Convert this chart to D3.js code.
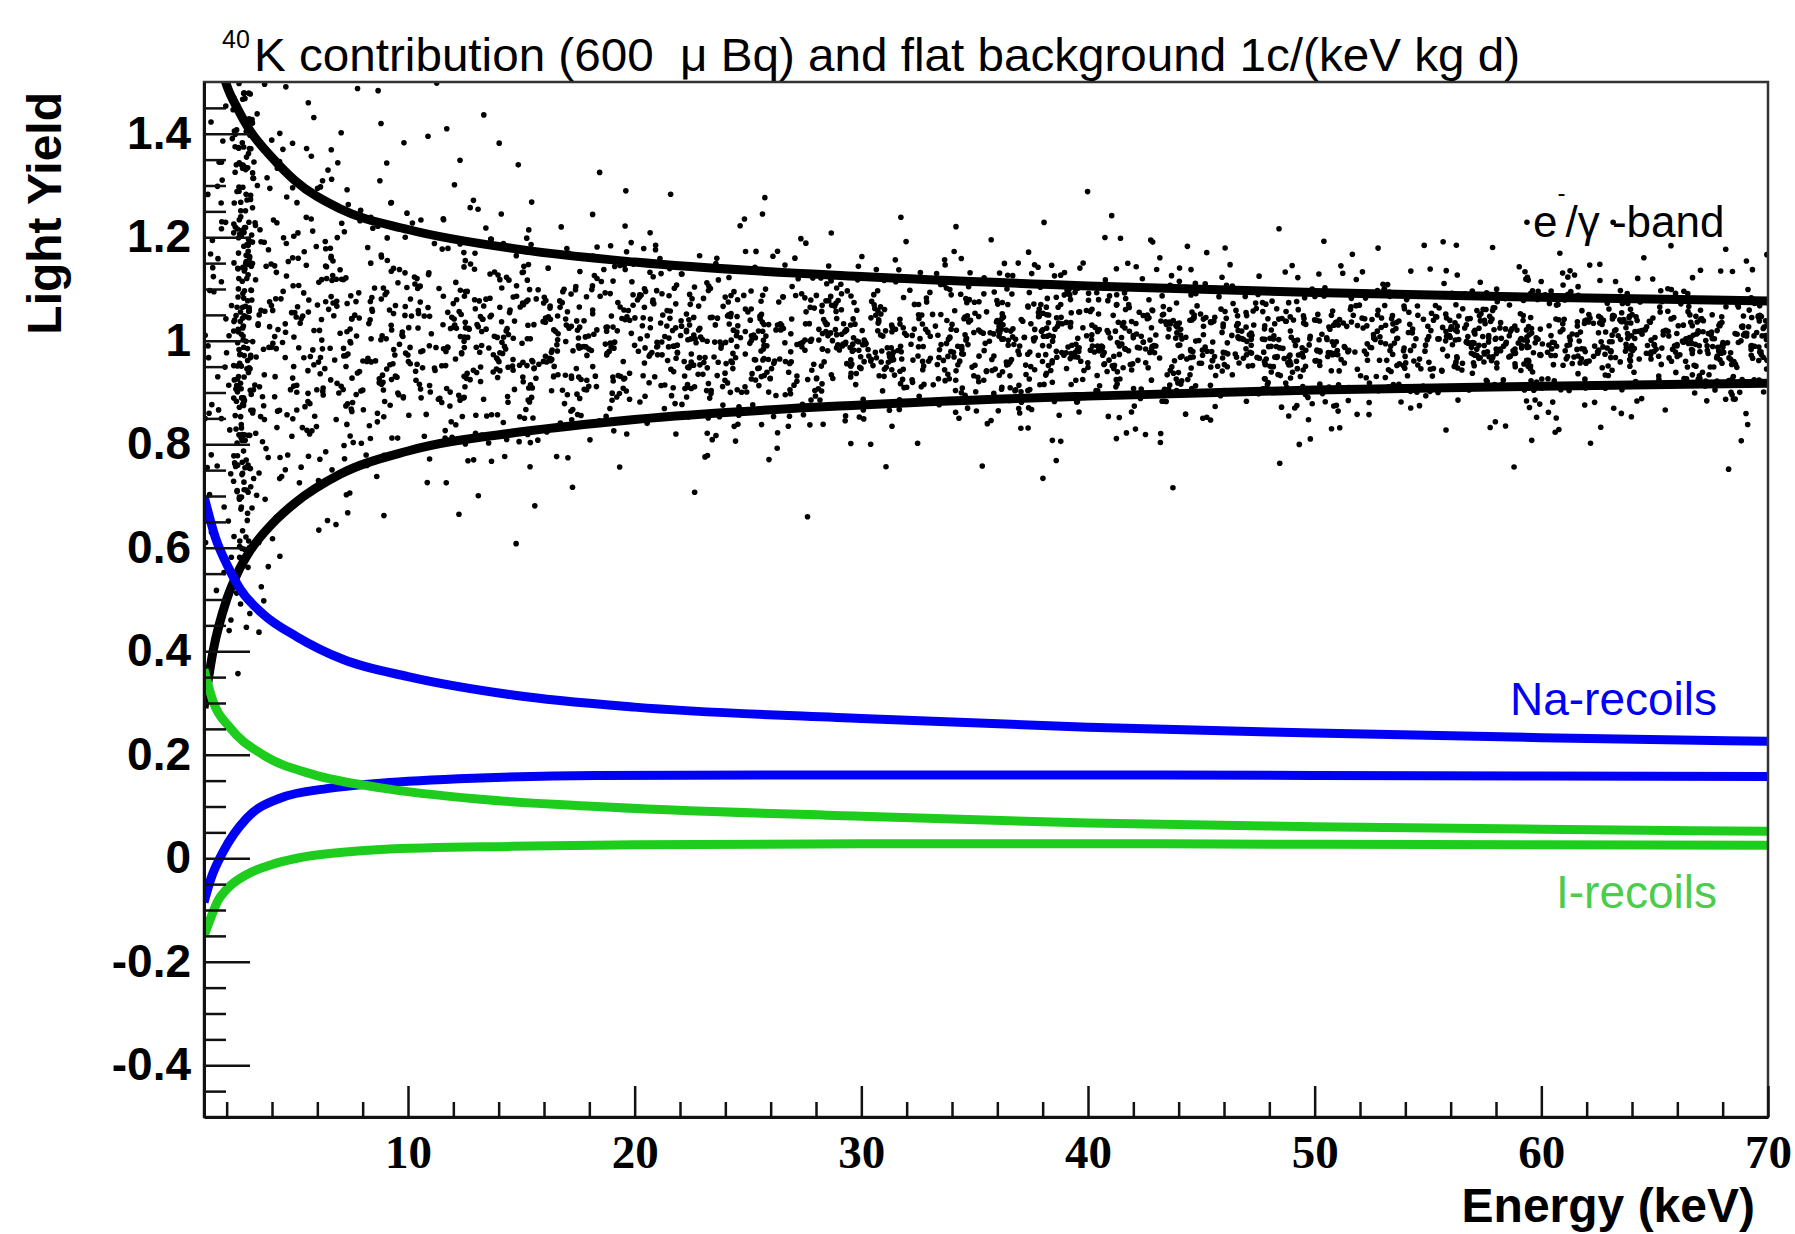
<!DOCTYPE html>
<html>
<head>
<meta charset="utf-8">
<script src="https://cdn.jsdelivr.net/npm/d3@7"></script>
<style>
  body { margin: 0; background: #fff; }
  svg text { font-family: "Liberation Sans", Arial, Helvetica, sans-serif; }
</style>
</head>
<body>
<svg id="chart" width="1795" height="1234"></svg>
<script>
// ---- data ----
var xMajorTicks = [10, 20, 30, 40, 50, 60, 70];
var yMajorTicks = [-0.4, -0.2, 0, 0.2, 0.4, 0.6, 0.8, 1, 1.2, 1.4];

// e-/gamma band (black)
var eUpperE  = [1.4, 1.7, 2, 2.5, 3, 4, 5, 7, 10, 15, 20, 30, 40, 50, 60, 70];
var eUpperLY = [1.60, 1.54, 1.494, 1.447, 1.408, 1.354, 1.31, 1.255, 1.215, 1.176, 1.152, 1.124, 1.106, 1.093, 1.084, 1.077];
var eLowerE  = [1, 1.4, 2, 2.5, 3, 4, 5, 7, 10, 15, 20, 30, 40, 50, 60, 70];
var eLowerLY = [0.29, 0.40, 0.50, 0.553, 0.592, 0.646, 0.686, 0.742, 0.787, 0.824, 0.848, 0.876, 0.893, 0.905, 0.912, 0.918];

// Na recoils (blue)
var naUpperE  = [1, 1.5, 2.1, 2.6, 3.6, 5.1, 7.15, 10, 14.7, 20, 30, 40, 50, 60, 70];
var naUpperLY = [0.70, 0.62, 0.56, 0.52, 0.472, 0.428, 0.384, 0.351, 0.315, 0.292, 0.27, 0.253, 0.242, 0.233, 0.226];
var naLowerE  = [1, 1.3, 1.85, 2.9, 4.35, 6.5, 8.8, 13.2, 18.3, 30, 40, 50, 60, 70];
var naLowerLY = [-0.085, -0.04, 0.013, 0.078, 0.116, 0.135, 0.145, 0.155, 0.16, 0.161, 0.161, 0.16, 0.159, 0.158];

// I recoils (green)
var iUpperE  = [1, 1.4, 2.15, 3.6, 5.8, 8.8, 13.2, 18.3, 30, 40, 50, 60, 70];
var iUpperLY = [0.365, 0.303, 0.252, 0.20, 0.162, 0.136, 0.114, 0.10, 0.081, 0.068, 0.061, 0.056, 0.052];
var iLowerE  = [1, 1.3, 1.6, 2, 2.9, 4, 5.1, 7, 8.8, 14.6, 20, 30, 40, 50, 60, 70];
var iLowerLY = [-0.15, -0.115, -0.083, -0.06, -0.031, -0.012, 0.0, 0.011, 0.017, 0.023, 0.026, 0.028, 0.028, 0.027, 0.026, 0.025];

// event scatter, counted per cell (energy columns x light-yield rows, top row first)
var scatterEnergyEdges = [1, 2.3, 3.2, 4, 5, 6.5, 8, 10, 13, 16, 20, 25, 30, 40, 50, 60, 70];
var scatterLyEdges = [1.50, 1.45, 1.40, 1.35, 1.30, 1.25, 1.20, 1.15, 1.10, 1.05, 1.00, 0.95,
                      0.90, 0.85, 0.80, 0.75, 0.70, 0.65, 0.60, 0.55, 0.50, 0.45, 0.40, 0.35];
var scatterCounts = [
  [1,  9, 1, 1, 1, 1, 1, 1, 0, 0, 0, 0, 0, 0, 0, 0],
  [2, 10, 1, 1, 1, 1, 1, 1, 1, 0, 0, 0, 0, 0, 0, 0],
  [2, 11, 1, 2, 2, 1, 1, 1, 1, 0, 0, 0, 0, 0, 0, 0],
  [3, 12, 2, 2, 2, 2, 2, 2, 1, 1, 0, 0, 0, 0, 0, 0],
  [3, 13, 2, 2, 3, 3, 2, 2, 2, 1, 1, 1, 1, 0, 0, 0],
  [3, 14, 3, 3, 4, 3, 4, 4, 3, 3, 3, 2, 3, 2, 1, 1],
  [3, 15, 3, 4, 5, 5, 6, 8, 7, 8, 7, 6, 10, 8, 7, 6],
  [3, 16, 3, 4, 7, 7, 9, 13, 13, 15, 17, 16, 29, 25, 20, 18],
  [3, 16, 4, 5, 8, 8, 11, 17, 18, 26, 33, 33, 64, 62, 58, 54],
  [3, 16, 4, 5, 8, 9, 12, 20, 23, 33, 46, 50, 104, 115, 124, 130],
  [3, 16, 4, 5, 8, 9, 12, 19, 23, 32, 45, 49, 106, 117, 128, 136],
  [3, 16, 3, 4, 8, 8, 11, 17, 18, 26, 33, 34, 65, 63, 56, 51],
  [3, 15, 3, 4, 7, 7, 9, 13, 13, 15, 17, 16, 29, 25, 19, 18],
  [3, 14, 3, 3, 5, 5, 5, 8, 8, 7, 8, 7, 10, 9, 7, 6],
  [3, 13, 2, 3, 4, 3, 3, 3, 3, 3, 2, 2, 3, 2, 1, 1],
  [2, 11, 2, 2, 2, 2, 1, 2, 1, 1, 1, 0, 1, 1, 0, 0],
  [2,  9, 1, 1, 1, 1, 1, 1, 1, 0, 0, 1, 0, 0, 0, 0],
  [2,  7, 1, 1, 1, 1, 0, 0, 1, 0, 0, 0, 0, 0, 0, 0],
  [2,  5, 1, 1, 0, 0, 0, 0, 0, 0, 0, 0, 0, 0, 0, 0],
  [1,  3, 1, 0, 0, 0, 0, 0, 0, 0, 0, 0, 0, 0, 0, 0],
  [1,  2, 1, 0, 0, 0, 0, 0, 0, 0, 0, 0, 0, 0, 0, 0],
  [1,  1, 1, 0, 0, 0, 0, 0, 0, 0, 0, 0, 0, 0, 0, 0],
  [0,  1, 0, 0, 0, 0, 0, 0, 0, 0, 0, 0, 0, 0, 0, 0]
];

// ---- drawing ----
var svg = d3.select("#chart");
var plotLeft = 204, plotRight = 1768, plotTop = 82, plotBottom = 1117;

var x = d3.scaleLinear().domain([1, 70]).range([plotLeft, plotRight]);
var y = d3.scaleLinear().domain([-0.5, 1.5]).range([plotBottom, plotTop]);

svg.append("defs").append("clipPath").attr("id", "plotArea")
  .append("rect")
    .attr("x", plotLeft).attr("y", plotTop)
    .attr("width", plotRight - plotLeft).attr("height", plotBottom - plotTop);

var plot = svg.append("g").attr("clip-path", "url(#plotArea)");

// scatter: each cell's events are spread inside that cell (fixed hash, same every run)
function spread(i, s) {
  var h = Math.sin(i * 12.9898 + s * 78.233) * 43758.5453;
  return h - Math.floor(h);
}
var dots = [];
var n = 0;
scatterCounts.forEach(function(row, r) {
  row.forEach(function(count, c) {
    for (var k = 0; k < count; k++) {
      n++;
      dots.push([
        scatterEnergyEdges[c] + spread(n, 1) * (scatterEnergyEdges[c + 1] - scatterEnergyEdges[c]),
        scatterLyEdges[r + 1] + spread(n, 2) * (scatterLyEdges[r] - scatterLyEdges[r + 1])
      ]);
    }
  });
});

plot.append("g").selectAll("circle")
  .data(dots)
  .enter()
  .append("circle")
    .attr("cx", function(d) { return x(d[0]); })
    .attr("cy", function(d) { return y(d[1]); })
    .attr("r", 2.8)
    .attr("fill", "#000");

var line = d3.line()
  .x(function(d) { return x(d[0]); })
  .y(function(d) { return y(d[1]); })
  .curve(d3.curveMonotoneX);

var curves = [
  {e: eUpperE, ly: eUpperLY, color: "#000"},
  {e: eLowerE, ly: eLowerLY, color: "#000"},
  {e: naUpperE, ly: naUpperLY, color: "#0000f5"},
  {e: naLowerE, ly: naLowerLY, color: "#0000f5"},
  {e: iUpperE, ly: iUpperLY, color: "#1ecc1e"},
  {e: iLowerE, ly: iLowerLY, color: "#1ecc1e"}
];

curves.forEach(function(cv) {
  plot.append("path")
    .datum(d3.zip(cv.e, cv.ly))
    .attr("d", line)
    .attr("fill", "none")
    .attr("stroke", cv.color)
    .attr("stroke-width", 9);
});

// frame
svg.append("rect")
  .attr("x", plotLeft).attr("y", plotTop)
  .attr("width", plotRight - plotLeft).attr("height", plotBottom - plotTop)
  .attr("fill", "none")
  .attr("stroke", "#333")
  .attr("stroke-width", 2.5);

// axes
var fmt = function(d) { return String(+d.toFixed(1)); };

var xMinor = d3.range(2, 70, 2).filter(function(v) { return v % 10 !== 0; });
var yMinor = d3.range(-9, 30).filter(function(i) { return i % 4 !== 0; })
  .map(function(i) { return i / 20; });

var xAxis = svg.append("g")
  .attr("transform", "translate(0," + plotBottom + ")")
  .call(d3.axisBottom(x).tickValues(xMajorTicks).tickSize(-31).tickSizeOuter(0)
        .tickPadding(18).tickFormat(d3.format("d")));
svg.append("g")
  .attr("transform", "translate(0," + plotBottom + ")")
  .call(d3.axisBottom(x).tickValues(xMinor).tickSize(-15).tickSizeOuter(0).tickFormat(""))
  .select(".domain").remove();

var yAxis = svg.append("g")
  .attr("transform", "translate(" + plotLeft + ",0)")
  .call(d3.axisLeft(y).tickValues(yMajorTicks).tickSize(-46).tickSizeOuter(0)
        .tickPadding(13).tickFormat(fmt));
svg.append("g")
  .attr("transform", "translate(" + plotLeft + ",0)")
  .call(d3.axisLeft(y).tickValues(yMinor).tickSize(-22).tickSizeOuter(0).tickFormat(""))
  .select(".domain").remove();

svg.selectAll(".tick line").attr("stroke", "#111").attr("stroke-width", 2.5);
svg.selectAll(".domain").attr("stroke", "#111").attr("stroke-width", 3);

xAxis.selectAll(".tick text")
  .style("font-family", "'Liberation Serif', 'Times New Roman', serif")
  .style("font-weight", "bold")
  .style("font-size", "47px")
  .attr("fill", "#000")
  .attr("dy", "0.71em");

yAxis.selectAll(".tick text")
  .style("font-weight", "bold")
  .style("font-size", "46px")
  .attr("fill", "#000");

// axis titles
svg.append("text")
  .attr("x", 1755).attr("y", 1222)
  .attr("text-anchor", "end")
  .style("font-weight", "bold")
  .style("font-size", "48px")
  .text("Energy (keV)");

svg.append("text")
  .attr("transform", "translate(61,92) rotate(-90)")
  .attr("text-anchor", "end")
  .style("font-weight", "bold")
  .style("font-size", "48px")
  .text("Light Yield");

// title
svg.append("text")
  .attr("x", 222).attr("y", 48)
  .style("font-size", "25px")
  .text("40");
svg.append("text")
  .attr("x", 254).attr("y", 71)
  .attr("textLength", 1266)
  .attr("lengthAdjust", "spacingAndGlyphs")
  .style("font-size", "46px")
  .style("white-space", "pre")
  .text("K contribution (600  \u03bc Bq) and flat background 1c/(keV kg d)");

// band labels
var band = svg.append("text")
  .attr("x", 1533).attr("y", 237)
  .style("font-size", "44px")
  .style("white-space", "pre");
band.append("tspan").text("e");
band.append("tspan").attr("dy", -36).style("font-size", "24px").text("-");
band.append("tspan").attr("dy", 36).text("/\u03b3 -band");

svg.append("text")
  .attr("x", 1717).attr("y", 715)
  .attr("text-anchor", "end")
  .attr("fill", "#0000f5")
  .style("font-size", "46px")
  .text("Na-recoils");

svg.append("text")
  .attr("x", 1717).attr("y", 908)
  .attr("text-anchor", "end")
  .attr("fill", "#4ccc4c")
  .style("font-size", "46px")
  .text("I-recoils");
</script>
</body>
</html>
